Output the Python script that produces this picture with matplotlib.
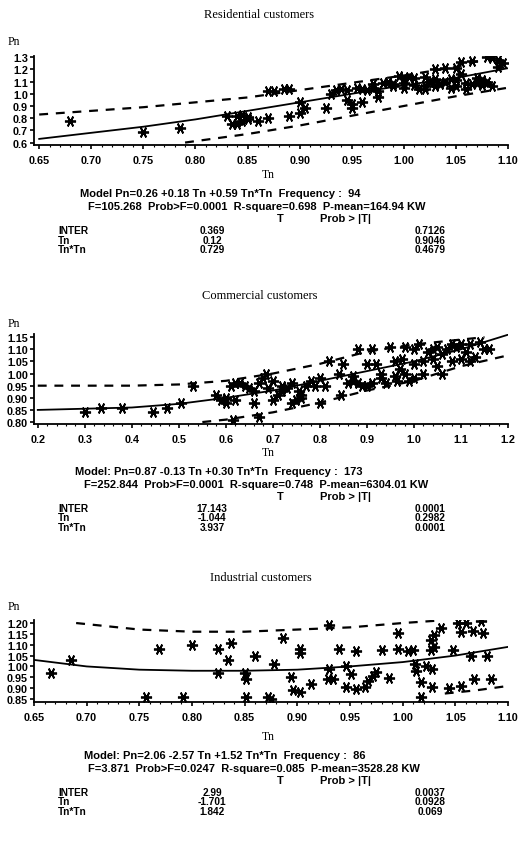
"""Quadratic load-model scatter panels for three customer classes."""

import matplotlib.pyplot as plt
from matplotlib.ticker import AutoMinorLocator

W, H = 518, 845

# ---- residential customers -------------------------------------------------
res_tn = [0.68, 0.75, 0.785, 0.83, 0.835, 0.84, 0.84, 0.845, 0.845, 0.85, 0.85, 0.86,
          0.87, 0.87, 0.875, 0.885, 0.89, 0.89, 0.90, 0.90, 0.905, 0.925, 0.93, 0.935,
          0.94, 0.945, 0.945, 0.95, 0.95, 0.955, 0.96, 0.965, 0.97, 0.97, 0.975, 0.98,
          0.985, 0.99, 0.995, 1.00, 1.00, 1.005, 1.01, 1.01, 1.015, 1.02, 1.02, 1.025,
          1.03, 1.03, 1.03, 1.035, 1.04, 1.04, 1.045, 1.05, 1.05, 1.05, 1.055, 1.06,
          1.06, 1.065, 1.07, 1.07, 1.075, 1.08, 1.08, 1.085, 1.085, 1.09, 1.09, 1.095,
          1.075, 1.065, 1.02, 0.975, 0.96, 0.99, 1.00, 1.055, 1.045]
res_pn = [0.78, 0.69, 0.72, 0.82, 0.75, 0.75, 0.82, 0.83, 0.78, 0.81, 0.79, 0.78,
          0.80, 1.02, 1.02, 1.04, 1.04, 0.82, 0.84, 0.93, 0.88, 0.88, 1.00, 1.03,
          1.04, 0.95, 1.03, 0.92, 0.88, 1.05, 0.93, 1.03, 1.08, 1.05, 1.02, 1.09,
          1.10, 1.08, 1.15, 1.13, 1.05, 1.14, 1.07, 1.13, 1.04, 1.14, 1.06, 1.10,
          1.20, 1.06, 1.12, 1.08, 1.21, 1.10, 1.05, 1.21, 1.11, 1.06, 1.16, 1.09,
          1.04, 1.27, 1.13, 1.09, 1.07, 1.30, 1.10, 1.29, 1.06, 1.22, 1.28, 1.25,
          1.11, 1.08, 1.04, 0.97, 1.04, 1.06, 1.09, 1.26, 1.12]
res_fit_tn = [0.65, 0.70, 0.75, 0.80, 0.85, 0.90, 0.95, 1.00, 1.05, 1.10]
res_fit_pn = [0.63, 0.68, 0.73, 0.79, 0.86, 0.93, 1.00, 1.07, 1.13, 1.21]
res_up_tn = [0.65, 0.70, 0.75, 0.80, 0.85, 0.90, 0.95, 1.00, 1.05, 1.085]
res_up_pn = [0.83, 0.86, 0.89, 0.93, 0.97, 1.03, 1.09, 1.15, 1.22, 1.30]
res_lo_tn = [0.79, 0.85, 0.90, 0.95, 1.00, 1.05, 1.10]
res_lo_pn = [0.60, 0.67, 0.74, 0.82, 0.90, 0.98, 1.05]
res_xticks = [0.65, 0.70, 0.75, 0.80, 0.85, 0.90, 0.95, 1.00, 1.05, 1.10]
res_yticks = [0.6, 0.7, 0.8, 0.9, 1.0, 1.1, 1.2, 1.3]

# ---- commercial customers --------------------------------------------------
com_tn = [0.30, 0.335, 0.38, 0.445, 0.475, 0.505, 0.53, 0.58, 0.59, 0.60, 0.60, 0.61,
          0.615, 0.62, 0.63, 0.64, 0.65, 0.66, 0.67, 0.67, 0.68, 0.685, 0.69, 0.70,
          0.70, 0.71, 0.72, 0.73, 0.74, 0.74, 0.75, 0.755, 0.76, 0.77, 0.78, 0.79,
          0.80, 0.80, 0.81, 0.82, 0.84, 0.845, 0.85, 0.86, 0.87, 0.88, 0.88, 0.89,
          0.90, 0.90, 0.91, 0.91, 0.92, 0.93, 0.94, 0.95, 0.96, 0.965, 0.97, 0.975,
          0.98, 0.99, 1.00, 1.00, 1.01, 1.02, 1.02, 1.03, 1.04, 1.05, 1.05, 1.06,
          1.06, 1.07, 1.08, 1.08, 1.09, 1.10, 1.10, 1.11, 1.12, 1.13, 1.14, 1.15,
          1.16, 1.12, 0.98, 0.93, 0.87, 0.76, 0.62, 0.66, 0.72, 1.04, 1.00, 0.96]
com_pn = [0.84, 0.86, 0.86, 0.84, 0.86, 0.88, 0.95, 0.91, 0.89, 0.90, 0.88, 0.95,
          0.81, 0.89, 0.96, 0.95, 0.94, 0.88, 0.82, 0.96, 0.98, 1.00, 0.94, 0.97,
          0.89, 0.91, 0.95, 0.94, 0.96, 0.88, 0.89, 0.93, 0.91, 0.95, 0.97, 0.95,
          0.88, 0.98, 0.95, 1.05, 1.00, 0.91, 1.04, 0.96, 0.99, 0.96, 1.10, 0.95,
          1.04, 0.95, 1.10, 0.96, 1.04, 0.98, 0.96, 1.11, 1.05, 0.97, 1.02, 1.06,
          1.11, 0.97, 1.04, 0.98, 1.12, 1.05, 1.00, 1.09, 1.06, 1.03, 1.11, 1.08,
          1.00, 1.10, 1.12, 1.05, 1.11, 1.12, 1.06, 1.09, 1.12, 1.07, 1.13, 1.10,
          1.10, 1.05, 1.00, 1.00, 0.97, 0.90, 0.96, 0.93, 0.93, 1.10, 1.10, 0.99]
com_fit_tn = [0.2, 0.3, 0.4, 0.5, 0.6, 0.7, 0.8, 0.9, 1.0, 1.1, 1.2]
com_fit_pn = [0.85, 0.855, 0.86, 0.875, 0.90, 0.93, 0.97, 1.01, 1.05, 1.10, 1.16]
com_up_tn = [0.2, 0.3, 0.4, 0.5, 0.6, 0.7, 0.8, 0.9, 1.0, 1.1, 1.15]
com_up_pn = [0.95, 0.95, 0.95, 0.955, 0.97, 1.00, 1.04, 1.09, 1.12, 1.14, 1.15]
com_lo_tn = [0.55, 0.6, 0.7, 0.8, 0.9, 1.0, 1.1, 1.2]
com_lo_pn = [0.80, 0.81, 0.84, 0.88, 0.93, 0.97, 1.03, 1.075]
com_xticks = [0.2, 0.3, 0.4, 0.5, 0.6, 0.7, 0.8, 0.9, 1.0, 1.1, 1.2]
com_yticks = [0.80, 0.85, 0.90, 0.95, 1.00, 1.05, 1.10, 1.15]

# ---- industrial customers --------------------------------------------------
ind_tn = [0.666, 0.685, 0.756, 0.769, 0.791, 0.80, 0.825, 0.837, 0.834, 0.825,
          0.85, 0.851, 0.851, 0.86, 0.872, 0.875, 0.878, 0.886, 0.894, 0.896,
          0.903, 0.903, 0.903, 0.913, 0.929, 0.93, 0.93, 0.934, 0.94, 0.946, 0.946,
          0.951, 0.956, 0.956, 0.964, 0.967, 0.972, 0.975, 0.98, 0.987, 0.996,
          0.996, 1.005, 1.01, 1.012, 1.013, 1.017, 1.017, 1.022, 1.027, 1.027,
          1.028, 1.028, 1.03, 1.03, 1.036, 1.044, 1.048, 1.053, 1.055, 1.055,
          1.06, 1.065, 1.067, 1.068, 1.074, 1.076, 1.08, 1.084]
ind_pn = [0.97, 1.03, 0.86, 1.08, 0.86, 1.10, 1.08, 1.11, 1.03, 0.97,
          0.97, 0.94, 0.86, 1.05, 0.86, 0.85, 1.01, 1.13, 0.95, 0.89,
          1.08, 1.06, 0.88, 0.92, 0.94, 1.19, 0.99, 0.94, 1.08, 1.00, 0.905,
          0.965, 1.07, 0.895, 0.905, 0.935, 0.955, 0.975, 1.075, 0.945, 1.155,
          1.08, 1.07, 1.075, 1.01, 0.98, 0.93, 0.86, 1.00, 1.12, 1.075,
          0.99, 0.905, 1.145, 1.09, 1.175, 0.90, 1.075, 1.20, 1.16, 0.91,
          1.20, 1.05, 1.165, 0.94, 1.21, 1.155, 1.05, 0.94]
ind_fit_tn = [0.65, 0.70, 0.75, 0.80, 0.85, 0.90, 0.95, 1.00, 1.05, 1.10]
ind_fit_pn = [1.03, 1.00, 0.985, 0.98, 0.98, 0.985, 1.00, 1.02, 1.05, 1.09]
ind_up_tn = [0.69, 0.75, 0.80, 0.85, 0.90, 0.95, 1.00, 1.03]
ind_up_pn = [1.20, 1.17, 1.16, 1.16, 1.17, 1.18, 1.20, 1.21]
ind_lo_tn = [1.04, 1.07, 1.10]
ind_lo_pn = [0.875, 0.89, 0.91]
ind_xticks = [0.65, 0.70, 0.75, 0.80, 0.85, 0.90, 0.95, 1.00, 1.05, 1.10]
ind_yticks = [0.85, 0.90, 0.95, 1.00, 1.05, 1.10, 1.15, 1.20]

# ---- model text --------------------------------------------------------------
res_model = 'Model Pn=0.26 +0.18 Tn +0.59 Tn*Tn  Frequency :  94'
res_stats = 'F=105.268  Prob>F=0.0001  R-square=0.698  P-mean=164.94 KW'
res_t = ['0.369', '0.12', '0.729']
res_p = ['0.7126', '0.9046', '0.4679']

com_model = 'Model: Pn=0.87 -0.13 Tn +0.30 Tn*Tn  Frequency :  173'
com_stats = 'F=252.844  Prob>F=0.0001  R-square=0.748  P-mean=6304.01 KW'
com_t = ['17.143', '-1.044', '3.937']
com_p = ['0.0001', '0.2982', '0.0001']

ind_model = 'Model: Pn=2.06 -2.57 Tn +1.52 Tn*Tn  Frequency :  86'
ind_stats = 'F=3.871  Prob>F=0.0247  R-square=0.085  P-mean=3528.28 KW'
ind_t = ['2.99', '-1.701', '1.842']
ind_p = ['0.0037', '0.0928', '0.069']

terms = ['INTER', 'Tn', 'Tn*Tn']

SERIF = 'Liberation Serif'
SANS = 'Liberation Sans'


def fig_text(fig, x, y, s, **kw):
    """Places text at pixel coordinates measured from the top-left corner."""
    kw.setdefault('va', 'center')
    fig.text(x / W, 1 - y / H, s, **kw)


def draw_panel(fig, *, box, xlim, ylim, xticks, yticks, xfmt, yfmt,
               tn, pn, fit, upper, lower):
    left, top, right, bottom = box
    ax = fig.add_axes([left / W, 1 - bottom / H, (right - left) / W, (bottom - top) / H])
    ax.plot(tn, pn, linestyle='none', marker=(6, 2, 90), markersize=8,
            markeredgewidth=1.3, color='black', zorder=3)
    ax.plot(*fit, color='black', linewidth=1.3)
    for band in (upper, lower):
        ax.plot(*band, color='black', linewidth=1.6, dashes=(4, 3.5))
    ax.set_xlim(*xlim)
    ax.set_ylim(*ylim)
    ax.set_xticks(xticks)
    ax.set_yticks(yticks)
    ax.set_xticklabels([xfmt.format(v) for v in xticks])
    ax.set_yticklabels([yfmt.format(v) for v in yticks])
    ax.xaxis.set_minor_locator(AutoMinorLocator(5))
    for side in ('top', 'right'):
        ax.spines[side].set_visible(False)
    for side in ('left', 'bottom'):
        ax.spines[side].set_linewidth(1.3)
    ax.tick_params(which='major', length=3, width=1.2, labelsize=7.8, pad=1.5)
    ax.tick_params(which='minor', length=1.5, width=0.8)
    ax.tick_params(axis='x', pad=4)
    for lab in ax.get_xticklabels() + ax.get_yticklabels():
        lab.set_fontweight('bold')
        lab.set_family(SANS)
    ax.patch.set_alpha(0)
    return ax


def draw_stats(fig, y0, model, stats, t_vals, p_vals, x_model, x_stats):
    bold = dict(fontsize=8, fontweight='bold', family=SANS)
    row = dict(fontsize=7.3, fontweight='bold', family=SANS)
    fig_text(fig, x_model, y0, model, **bold)
    fig_text(fig, x_stats, y0 + 13, stats, **bold)
    fig_text(fig, 280, y0 + 25, 'T', ha='center', **bold)
    fig_text(fig, 320, y0 + 25, 'Prob > |T|', **bold)
    for i, term in enumerate(terms):
        y = y0 + 37 + 9.5 * i
        fig_text(fig, 58, y, term, **row)
        fig_text(fig, 212, y, t_vals[i], ha='center', **row)
        fig_text(fig, 430, y, p_vals[i], ha='center', **row)


fig = plt.figure(figsize=(W / 100, H / 100), dpi=100)

# Residential
fig_text(fig, 259, 15, 'Residential customers', ha='center', fontsize=9, family=SERIF)
fig_text(fig, 8, 42, 'Pn', fontsize=8.5, family=SERIF)
draw_panel(fig, box=(34, 57, 508, 146), xlim=(0.645, 1.10), ylim=(0.58, 1.31),
           xticks=res_xticks, yticks=res_yticks, xfmt='{:.2f}', yfmt='{:.1f}',
           tn=res_tn, pn=res_pn, fit=(res_fit_tn, res_fit_pn),
           upper=(res_up_tn, res_up_pn), lower=(res_lo_tn, res_lo_pn))
fig_text(fig, 268, 175, 'Tn', ha='center', fontsize=8.5, family=SERIF)
draw_stats(fig, 194, res_model, res_stats, res_t, res_p, 80, 88)

# Commercial
fig_text(fig, 260, 296, 'Commercial customers', ha='center', fontsize=9, family=SERIF)
fig_text(fig, 8, 324, 'Pn', fontsize=8.5, family=SERIF)
draw_panel(fig, box=(34, 335, 508, 425), xlim=(0.192, 1.20), ylim=(0.792, 1.163),
           xticks=com_xticks, yticks=com_yticks, xfmt='{:.1f}', yfmt='{:.2f}',
           tn=com_tn, pn=com_pn, fit=(com_fit_tn, com_fit_pn),
           upper=(com_up_tn, com_up_pn), lower=(com_lo_tn, com_lo_pn))
fig_text(fig, 268, 453, 'Tn', ha='center', fontsize=8.5, family=SERIF)
draw_stats(fig, 472, com_model, com_stats, com_t, com_p, 75, 84)

# Industrial
fig_text(fig, 261, 578, 'Industrial customers', ha='center', fontsize=9, family=SERIF)
fig_text(fig, 8, 607, 'Pn', fontsize=8.5, family=SERIF)
draw_panel(fig, box=(34, 621, 508, 703), xlim=(0.65, 1.10), ylim=(0.836, 1.214),
           xticks=ind_xticks, yticks=ind_yticks, xfmt='{:.2f}', yfmt='{:.2f}',
           tn=ind_tn, pn=ind_pn, fit=(ind_fit_tn, ind_fit_pn),
           upper=(ind_up_tn, ind_up_pn), lower=(ind_lo_tn, ind_lo_pn))
fig_text(fig, 268, 737, 'Tn', ha='center', fontsize=8.5, family=SERIF)
draw_stats(fig, 756, ind_model, ind_stats, ind_t, ind_p, 84, 88)

fig.savefig('out.png', dpi=100)
